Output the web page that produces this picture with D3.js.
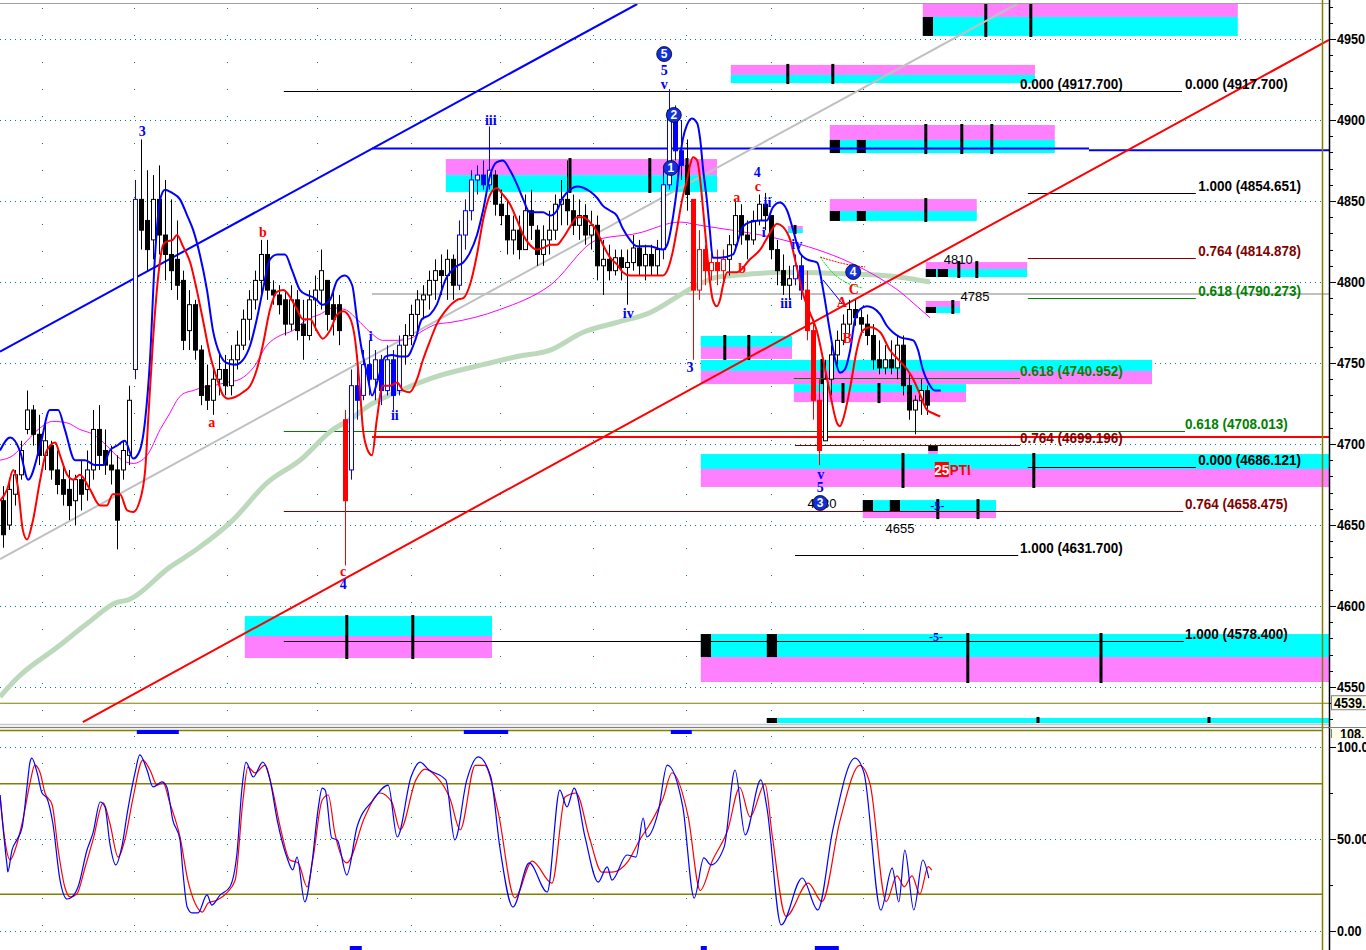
<!DOCTYPE html>
<html><head><meta charset="utf-8">
<script src="https://cdn.jsdelivr.net/npm/d3@7"></script>
<style>body{margin:0;background:#fff;overflow:hidden}svg{display:block}</style>
</head><body><svg id="c" width="1366" height="950"></svg>
<script>
// ---------------- DATA ----------------
// OHLC bars [high, low, open, close]
const ohlc = [
[4674,4636,4665,4644],[4678,4647,4650,4672],[4684,4662,4669,4681],[4702,4678,4681,4696],[4733,4706,4709,4721],
[4724,4699,4721,4706],[4718,4687,4706,4693],[4712,4684,4693,4702],[4702,4678,4699,4684],[4696,4669,4684,4675],
[4687,4662,4678,4669],[4684,4653,4672,4662],[4681,4650,4665,4678],[4690,4659,4678,4669],[4696,4665,4672,4684],
[4721,4678,4684,4709],[4724,4684,4709,4693],[4709,4681,4696,4687],[4699,4675,4687,4684],[4693,4635,4684,4653],
[4702,4678,4684,4696],[4736,4687,4693,4727],[4863,4740,4746,4851],[4888,4820,4851,4832],[4869,4807,4838,4820],
[4866,4814,4826,4851],[4872,4817,4851,4829],[4863,4801,4829,4817],[4851,4795,4817,4807],[4838,4789,4814,4798],
[4807,4758,4801,4764],[4795,4758,4770,4786],[4789,4752,4786,4758],[4761,4724,4758,4730],[4749,4721,4736,4727],
[4746,4718,4727,4740],[4755,4730,4740,4746],[4755,4730,4746,4736],[4761,4730,4736,4752],[4770,4746,4752,4761],
[4783,4758,4761,4777],[4795,4764,4777,4789],[4807,4783,4789,4801],[4826,4792,4801,4817],[4826,4789,4817,4795],
[4801,4786,4795,4792],[4798,4780,4792,4786],[4795,4767,4789,4774],[4798,4770,4774,4789],[4795,4764,4789,4770],
[4789,4752,4774,4767],[4795,4764,4767,4789],[4804,4770,4789,4795],[4820,4783,4795,4807],[4801,4770,4801,4780],
[4795,4767,4786,4777],[4792,4761,4786,4770],[4721,4625,4715,4665],[4746,4678,4684,4736],[4755,4715,4736,4727],
[4758,4727,4730,4749],[4764,4730,4749,4740],[4758,4727,4740,4752],[4755,4724,4752,4733],[4761,4730,4733,4752],
[4758,4721,4752,4730],[4767,4730,4733,4761],[4774,4749,4761,4767],[4786,4761,4767,4780],[4795,4767,4780,4789],
[4798,4777,4789,4792],[4807,4783,4792,4801],[4814,4789,4801,4807],[4817,4792,4807,4804],[4820,4789,4804,4814],
[4817,4789,4814,4798],[4838,4795,4798,4829],[4851,4820,4829,4844],[4869,4838,4844,4863],[4872,4854,4863,4866],
[4875,4857,4866,4860],[4896,4857,4860,4869],[4869,4841,4866,4848],[4857,4835,4848,4841],[4851,4817,4841,4826],
[4841,4817,4826,4832],[4841,4814,4832,4820],[4854,4820,4820,4844],[4857,4826,4844,4835],[4835,4810,4832,4817],
[4835,4810,4817,4826],[4844,4817,4826,4832],[4854,4826,4832,4848],[4863,4835,4848,4851],[4875,4835,4851,4844],
[4854,4829,4844,4835],[4851,4826,4835,4841],[4848,4823,4841,4829],[4844,4820,4829,4835],[4841,4801,4835,4810],
[4826,4792,4810,4814],[4823,4801,4814,4807],[4820,4804,4807,4815],[4820,4801,4815,4809],[4820,4786,4809,4812],
[4829,4807,4812,4821],[4826,4804,4821,4810],[4823,4801,4810,4817],[4823,4804,4817,4810],[4826,4804,4810,4820],
[4869,4814,4820,4860],[4919,4857,4860,4906],[4909,4875,4906,4881],[4900,4863,4881,4872],[4888,4844,4872,4854],
[4851,4752,4851,4795],[4832,4789,4795,4820],[4823,4798,4820,4807],[4820,4801,4807,4812],[4820,4798,4812,4807],
[4820,4801,4807,4814],[4829,4804,4814,4823],[4851,4820,4823,4841],[4848,4823,4841,4829],[4838,4814,4829,4826],
[4844,4823,4826,4838],[4854,4835,4838,4848],[4855,4832,4848,4841],[4841,4814,4841,4820],[4826,4798,4820,4807],
[4817,4792,4807,4798],[4810,4789,4798,4802],[4817,4798,4802,4810],[4817,4789,4810,4795],[4807,4764,4795,4770],
[4777,4715,4770,4727],[4740,4687,4727,4696],[4752,4702,4702,4740],[4761,4730,4740,4755],[4770,4749,4755,4764],
[4780,4761,4764,4774],[4789,4767,4774,4783],[4789,4773,4783,4778],[4783,4767,4778,4774],[4780,4761,4774,4767],
[4774,4746,4767,4752],[4764,4743,4752,4747],[4761,4743,4747,4752],[4764,4743,4752,4747],[4767,4740,4747,4761],
[4767,4730,4761,4736],[4743,4715,4736,4721],[4730,4706,4721,4727],[4740,4718,4727,4733],[4736,4718,4733,4724]
];
const upSignalBars = [[22,22],[58,66],[76,81],[110,113],[132,133]];
const downSignalBars = [[57,57],[115,120],[134,136]];

// Bands / moving averages: [time, price]
const upperBand = [[0,4696],[1.7,4704],[3.3,4696],[4.7,4678],[6.7,4699],[8.3,4721],[9.7,4721],[10.8,4709],[12.5,4690],[14.2,4690],[15.8,4687],[17.2,4687],[18.3,4696],[19.5,4699],[20.8,4702],[22.2,4691],[23.3,4696],[24.2,4715],[25,4752],[25.8,4814],[26.7,4851],[27.5,4857],[28.7,4855],[30,4851],[31.2,4841],[32.2,4832],[33.3,4817],[34.5,4795],[35.5,4770],[36.7,4755],[37.8,4750],[39.2,4749],[40.5,4752],[41.7,4761],[42.8,4777],[43.8,4795],[45,4814],[46.2,4817],[47.5,4817],[48.7,4807],[50,4795],[51.2,4792],[52.5,4790],[53.7,4786],[55,4789],[56.2,4801],[57.5,4804],[58.7,4798],[59.5,4777],[60.3,4758],[61.2,4743],[62,4730],[63,4740],[64.2,4754],[65.3,4755],[66.7,4754],[67.8,4754],[69.2,4764],[70.3,4777],[71.7,4780],[72.8,4786],[74.2,4801],[76.2,4810],[77.2,4812],[78.3,4818],[79.5,4829],[80.5,4844],[81.7,4866],[82.8,4874],[83.8,4875],[85,4869],[86.2,4860],[87.2,4851],[88.3,4843],[90.5,4843],[91.7,4841],[92.8,4844],[93.8,4852],[95,4857],[96.2,4859],[98.3,4856],[99.5,4852],[100.5,4847],[101.7,4844],[102.8,4841],[103.8,4833],[105,4826],[106.2,4822],[108.3,4822],[110.5,4820],[111.2,4823],[112.2,4841],[112.8,4857],[113.3,4875],[113.8,4888],[114.5,4897],[115.3,4901],[116.2,4898],[116.7,4888],[117.2,4869],[117.8,4851],[118.3,4832],[118.8,4815],[120,4815],[122.2,4817],[122.8,4823],[123.8,4834],[125,4837],[126.7,4838],[127.8,4838],[128.8,4846],[130,4849],[131.2,4844],[132.2,4832],[133.3,4818],[134.5,4814],[136.2,4812],[137.2,4795],[138.3,4770],[139.2,4752],[140,4744],[140.8,4746],[141.7,4758],[142.5,4777],[143.3,4783],[144.5,4785],[145.5,4784],[146.7,4780],[147.8,4773],[148.8,4769],[150,4766],[152.2,4764],[153,4758],[153.8,4746],[154.7,4738],[155.8,4733],[156.8,4733]];
const lowerBand = [[0,4665],[1.2,4672],[2.2,4684],[3,4673],[3.8,4647],[4.5,4641],[5.5,4653],[6.7,4678],[7.8,4696],[9.2,4701],[10,4693],[11.2,4681],[12.2,4678],[13.3,4681],[15,4672],[16.7,4662],[17.8,4662],[18.8,4669],[20,4669],[21.2,4659],[22.2,4658],[23.3,4665],[24.2,4684],[24.7,4715],[25.5,4764],[26.3,4801],[27.2,4823],[27.8,4825],[28.8,4826],[29.5,4829],[30.5,4822],[31.7,4812],[32.8,4795],[33.8,4777],[35,4755],[36.2,4740],[37.2,4730],[38,4728],[39.2,4729],[40.5,4732],[41.7,4736],[42.8,4746],[43.8,4761],[45,4783],[46.2,4794],[47.2,4795],[48.3,4791],[49.5,4783],[50.5,4777],[51.7,4777],[52.8,4770],[53.8,4765],[55,4770],[56.2,4780],[57.2,4782],[58.3,4778],[59.2,4764],[60,4733],[60.5,4709],[61.3,4696],[62,4693],[62.8,4715],[63.8,4736],[65,4736],[66.2,4738],[67.2,4733],[68.3,4732],[69.5,4740],[70.5,4752],[71.7,4764],[72.8,4774],[74.2,4782],[76.2,4789],[77.2,4790],[78.3,4798],[79.5,4817],[80.5,4838],[81.7,4854],[82.8,4858],[83.8,4854],[85,4848],[86.2,4838],[87.2,4829],[88.3,4823],[89.5,4820],[90.5,4821],[91.7,4823],[92.8,4823],[93.8,4827],[95,4834],[96.2,4840],[97.2,4840],[98.3,4837],[99.5,4831],[100.5,4823],[101.7,4815],[102.8,4811],[103.8,4806],[105,4804],[110.5,4804],[111.2,4807],[112.2,4820],[112.8,4832],[113.7,4851],[114.5,4863],[115,4872],[115.5,4877],[116.2,4875],[116.7,4863],[117.2,4844],[117.8,4820],[118.3,4801],[118.8,4789],[119.5,4785],[120,4789],[120.5,4798],[121.2,4806],[122.8,4806],[125,4814],[126.7,4820],[128.3,4830],[129.5,4836],[130.5,4834],[131.7,4826],[132.8,4809],[133.8,4793],[135,4781],[136.2,4769],[137.2,4752],[138.3,4732],[139.5,4713],[140,4711],[140.5,4715],[141.7,4735],[142.8,4758],[143.8,4770],[145,4772],[146.7,4769],[148.3,4758],[150,4751],[151.2,4746],[152.2,4740],[153.3,4731],[154.5,4721],[155.5,4719],[156.7,4717]];
const fastMA = [[0,4690],[2.2,4693],[4.5,4702],[6.7,4710],[8.8,4714],[11.2,4713],[13.3,4709],[15.5,4706],[17.8,4699],[20,4691],[22.2,4688],[24.5,4693],[26.7,4709],[28.3,4719],[29.5,4727],[30.5,4731],[32.2,4733],[33.8,4735],[35.5,4736],[37.8,4738],[40,4740],[42.2,4747],[44.5,4761],[46.7,4767],[48.8,4770],[51.2,4777],[53.3,4780],[55.5,4784],[57.5,4783],[59.5,4777],[61.7,4769],[63.8,4764],[66.2,4764],[68.3,4765],[70.5,4770],[72.8,4774],[75,4775],[83.3,4783],[91.7,4798],[99.5,4826],[106.2,4830],[113.3,4837],[116.7,4835],[130.5,4826],[136.2,4820],[141.7,4812],[147.2,4801],[150,4794],[152.2,4787],[155,4778]];
const slowMA = [[0,4544],[3,4556],[9.7,4575],[14.8,4590],[19.3,4602],[21.5,4604],[28.3,4624],[32.8,4635],[38.8,4653],[44.5,4676],[50,4690],[55.5,4709],[58.3,4715],[61.2,4723],[66.7,4733],[72.2,4741],[80.5,4749],[86.2,4754],[91.7,4758],[97.2,4769],[102.8,4775],[108.3,4781],[113.8,4793],[116.7,4799],[119.5,4803],[122.2,4804],[130.5,4806],[141.7,4805],[150,4803],[155,4800]];

// trend lines
const trendLines = [
  {kind:'upperChannel', pts:[[0,4757],[106.2,4971.6]]},
  {kind:'midChannel',   pts:[[0,4629],[169.5,4971.6]]},
  {kind:'lowerChannel', pts:[[13.8,4528.4],[221.5,4949.4]]},
];
const levelLines = [
  {kind:'blue', t0:62, t1:181.5, p:4882.4},
  {kind:'blue', t0:181.5, t1:221.5, p:4881.4},
  {kind:'gray', t0:62, t1:221.5, p:4792.6},
  {kind:'red',  t0:62, t1:221.5, p:4704.3},
  {kind:'olive',t0:0,  t1:221.5, p:4540}
];
const projRed   = [[136.7,4815.4],[141.7,4810.5],[144.2,4809.3]];
const projGreen = [[136.7,4815.4],[138.8,4805.6],[141.2,4799.4],[143.8,4796.3]];
const projBlue  = [[137.2,4801.2],[140.3,4787]];

// Fibonacci projection levels
const fibLines = [
 {t0:47.3,t1:197,p:4917.7,r:'0.000'},
 {t0:171.3,t1:199.3,p:4854.651,r:'1.000'},
 {t0:171.3,t1:199.3,p:4814.878,r:'0.764'},
 {t0:171.3,t1:199.3,p:4790.273,r:'0.618'},
 {t0:132.3,t1:170,p:4740.952,r:'0.618'},
 {t0:47.3,t1:197.5,p:4708.013,r:'0.618'},
 {t0:132.5,t1:170,p:4699.196,r:'0.764'},
 {t0:171.3,t1:199.3,p:4686.121,r:'0.000'},
 {t0:47.3,t1:197.2,p:4658.475,r:'0.764'},
 {t0:132.5,t1:169.7,p:4631.7,r:'1.000'},
 {t0:47.3,t1:197.3,p:4578.4,r:'1.000'}
];
const fibLabels = [
 {t:170,p:4917.7,r:'0.000'},{t:197.5,p:4917.7,r:'0.000'},
 {t:199.7,p:4854.651,r:'1.000'},{t:199.7,p:4814.878,r:'0.764'},{t:199.7,p:4790.273,r:'0.618'},
 {t:170,p:4740.952,r:'0.618'},{t:197.5,p:4708.013,r:'0.618'},{t:170,p:4699.196,r:'0.764'},
 {t:199.7,p:4686.121,r:'0.000'},{t:197.5,p:4658.475,r:'0.764'},{t:170,p:4631.7,r:'1.000'},
 {t:197.5,p:4578.4,r:'1.000'}
];

// time/price zones: hi, mid, lo prices; top = which band is upper (m magenta, c cyan, k black)
const zones = [
 {t0:153.8,t1:206.3,hi:4971.6,mid:4963.6,lo:4951.9,top:'m',blocks:[[153.8,155.5]],marks:[164.3,171.8]},
 {t0:121.8,t1:172.5,hi:4934.0,mid:4927.8,lo:4922.8,top:'m',blocks:[],marks:[131.3,138.8]},
 {t0:74.3,t1:119.5,hi:4875.9,mid:4866.0,lo:4855.6,top:'m',blocks:[],marks:[95,108.3,114.5]},
 {t0:138.3,t1:175.8,hi:4896.9,mid:4887.7,lo:4879.6,top:'m',blocks:[[138.3,140],[142.8,144.3]],marks:[154.3,160.3,165.3]},
 {t0:138.3,t1:162.8,hi:4851.2,mid:4843.8,lo:4837.7,top:'m',blocks:[[138.3,140],[142.8,144.3]],marks:[154.3]},
 {t0:131.3,t1:133.8,hi:4834.6,mid:4832.7,lo:4830.2,top:'m',blocks:[],marks:[132.5]},
 {t0:154.3,t1:171.2,hi:4812.3,mid:4808.0,lo:4803.1,top:'m',blocks:[[154.3,156],[156.3,158]],marks:[159.8,162.8]},
 {t0:154.3,t1:160,hi:4788.3,mid:4784.6,lo:4780.9,top:'m',blocks:[[154.3,156]],marks:[158.8]},
 {t0:116.8,t1:132,hi:4766.7,mid:4759.9,lo:4752.5,top:'c',blocks:[],marks:[120.8,124.8]},
 {t0:116.8,t1:192,hi:4751.9,mid:4745.1,lo:4737.0,top:'c',blocks:[],marks:[137]},
 {t0:132.3,t1:161,hi:4737.0,mid:4732.1,lo:4725.9,top:'c',blocks:[],marks:[140.5,146.5]},
 {t0:154.7,t1:156.3,hi:4698.8,mid:4695.7,lo:4692.6,top:'k',blocks:[],marks:[]},
 {t0:116.8,t1:221.5,hi:4693.8,mid:4684.6,lo:4673.5,top:'c',blocks:[],marks:[150.5,172.3]},
 {t0:143.8,t1:166,hi:4665.4,mid:4658.6,lo:4654.3,top:'c',blocks:[[143.8,145.5],[148.3,150]],marks:[156.3,163]},
 {t0:40.8,t1:82,hi:4593.8,mid:4581.5,lo:4567.9,top:'c',blocks:[],marks:[57.8,68.8]},
 {t0:116.8,t1:221.5,hi:4582.7,mid:4568.5,lo:4553.1,top:'c',blocks:[[116.8,118.5],[127.8,129.5]],marks:[161.3,183.5]},
 {t0:127.8,t1:221.5,hi:4530.9,mid:4527.8,lo:4527.8,top:'c',blocks:[[127.8,129.5]],marks:[173,201.5]}
];

// Wave labels
const waveLabels = [
 {t:23.7,p:4893.2,s:'3',k:'impulse'},{t:43.8,p:4830.9,s:'b',k:'corr'},{t:35.3,p:4713.6,s:'a',k:'corr'},
 {t:57.2,p:4621.6,s:'c',k:'corr'},{t:57.2,p:4613.6,s:'4',k:'impulse'},{t:61.8,p:4766.7,s:'i',k:'impulse'},
 {t:65.8,p:4717.9,s:'ii',k:'impulse'},{t:81.8,p:4900,s:'iii',k:'impulse'},{t:104.7,p:4780.9,s:'iv',k:'impulse'},
 {t:110.7,p:4930.9,s:'5',k:'impulse'},{t:110.7,p:4922.2,s:'v',k:'impulse'},{t:115,p:4747.5,s:'3',k:'impulse'},
 {t:122.8,p:4852.5,s:'a',k:'corr'},{t:126.2,p:4867.9,s:'4',k:'impulse'},{t:126.3,p:4859.3,s:'c',k:'corr'},
 {t:123.7,p:4808.6,s:'b',k:'corr'},{t:127.9,p:4849.4,s:'ii',k:'impulse'},{t:127.3,p:4830.9,s:'i',k:'impulse'},
 {t:131,p:4787,s:'iii',k:'impulse'},{t:132.8,p:4823.5,s:'iv',k:'impulse'},{t:142.3,p:4795.7,s:'C',k:'corr'},
 {t:140.3,p:4787.7,s:'A',k:'corr'},{t:141.2,p:4765.4,s:'B',k:'corr'},{t:136.8,p:4681.5,s:'v',k:'impulse'},
 {t:136.7,p:4673.5,s:'5',k:'impulse'},{t:156.2,p:4661.7,s:'-5-',k:'impulse'},{t:156,p:4580.9,s:'-5-',k:'impulse'}
];
const circleLabels = [
 {t:110.7,p:4940.7,s:'5'},{t:112.3,p:4903.1,s:'2'},{t:111.8,p:4870.4,s:'1'},
 {t:142.2,p:4806.2,s:'4'},{t:136.7,p:4663.6,s:'3'}
];
const priceTags = [
 {t:159.7,p:4814.2,s:'4810'},{t:162.5,p:4791.4,s:'4785'},{t:150,p:4648.1,s:'4655'},{t:137,p:4663.6,s:'4680'}
];
const ptiLabel = {t:155.8,p:4684,num:'25',txt:'PTI'};

const priceTicks = [4950,4900,4850,4800,4750,4700,4650,4600,4550];
const gridT = [7,22.3,37.8,52.8,68.5,83.3,98.8,114.3,128.5,143.8];

// Oscillator (stochastic %K and %D) [time, value]
const oscK = [[0,73.9],[0.5,56.5],[1.2,34.8],[1.3,32.1],[2,44],[2.8,49.5],[3.7,56.5],[4.5,78.3],[5,91.8],[5.3,94],[6.2,85.9],[7,75],[7.8,72.3],[8.8,58.7],[10,27.7],[11.2,17.4],[12,18.5],[13,23.9],[14.5,44],[15.5,53.3],[16.7,70.1],[17.5,67.4],[18.3,47.8],[19.3,35.9],[20.3,45.7],[21.3,65.8],[22.5,85.9],[23.3,95.7],[24.5,87.5],[25.5,78.3],[27,81],[27.8,78.3],[28.8,60.3],[30,49.5],[30.5,31.5],[31.2,13],[32,9.8],[33,9.8],[34.5,19.6],[35.3,14.1],[36.7,19.6],[38.3,23.9],[39.5,42.4],[40.3,76.6],[41,91.8],[42.2,83.7],[43.8,91.8],[45,82.1],[46.2,60.3],[47.8,40.2],[48.8,33.2],[49.5,40.2],[50.8,15.8],[52,37],[53,65.8],[53.7,77.7],[54.2,76.6],[55.3,50.5],[56.2,49.5],[57.8,30.4],[59.5,56.5],[62.2,71.2],[64.7,79.3],[66.2,51.1],[68.5,83.7],[70,91.8],[71.5,87.5],[74.3,82.1],[75.8,49.5],[77.8,82.1],[79.7,94.6],[81.8,83.7],[83.3,45.7],[85.5,13],[88.2,37],[91.2,21.2],[93.3,76.6],[94.5,67.4],[95.7,77.7],[97.5,51.1],[99.7,26.6],[101.2,34.8],[102,27.7],[104.5,41.3],[106,40.2],[107.2,61.4],[107.8,51.1],[109.7,64.7],[111.2,90.2],[113.8,67.4],[115.7,17.9],[117.3,39.7],[118.5,35.9],[120.7,45.7],[122.5,87.5],[124.2,52.2],[126.8,82.1],[127.8,67.4],[130.2,3.3],[133.7,28.8],[136.3,11.4],[138.8,54.9],[142.5,94],[144,85.9],[146.8,11.4],[148.7,34.2],[149.8,15.8],[150.8,44],[152.3,11.4],[153.8,38.6],[154.8,28.8]];
const oscD = [[0,73.9],[0.8,49.5],[1.7,38.6],[2.5,44],[3.8,60.3],[5,80.4],[5.8,90.2],[6.7,85.9],[7.5,75],[8.7,68.5],[9.7,44],[10.8,23.9],[11.7,18.5],[12.8,20.1],[14.2,34.8],[15.5,49.5],[17.2,69.6],[18.3,58.7],[19.7,40.2],[20.8,49.5],[22.2,72.8],[23.8,92.9],[25,87.5],[26.2,79.3],[27.2,80.4],[28.3,69.6],[30,51.1],[31.3,27.7],[32.5,15.2],[33.7,10.3],[34.7,15.2],[36.2,16.8],[37.8,20.7],[39.2,27.7],[40.5,71.2],[41.3,89.1],[42.5,85.9],[44.2,90.2],[45.3,78.3],[46.7,56.5],[48.3,38.6],[49.7,37],[51.2,23.9],[52.2,40.2],[53.7,71.2],[54.7,73.9],[55.8,53.3],[57.8,37],[60.8,62],[63.3,75],[65.3,70],[66.7,55],[69.3,82],[70.8,88],[72.7,84],[75,72],[76.7,55],[79.2,90],[80.8,90],[83,65],[85.8,18],[88.7,38],[92,26],[94.2,73],[96,75],[98.3,50],[100.3,32],[102,32],[104.7,38],[106.7,50],[108.3,58],[110.5,72],[112,86],[114.7,62],[116.7,22],[118.7,38],[121.3,55],[123.3,78],[125,62],[127.5,80],[128.7,52],[131,8],[134.7,26],[137,16],[140,60],[143.3,90],[145,80],[147.7,16],[149.5,30],[150.7,24],[152,30],[153.3,20],[154.7,35],[155.3,33]];
const oscLevels = [80,20];
const oscTicks = [100,50,0];
const oscFlagsTop = [[22.8,29.8],[77.3,84.7],[111.8,115.3]];
const oscFlagsBottom = [[58.3,60.3],[116.8,117.8],[135.8,139.8]];

// ---------------- DRAW ----------------
const svg = d3.select('#c');
const x = d3.scaleLinear().domain([0,221.5]).range([0,1329]);
const y = d3.scaleLinear().domain([4527.8,4971.6]).range([723,4]);
const yo = d3.scaleLinear().domain([0,100]).range([931,747]);
const MAG='#ff80ff', CYA='#00ffff';
const SANS='"Liberation Sans",Arial,sans-serif';

const defs = svg.append('defs');
defs.append('clipPath').attr('id','mainClip').append('rect').attr('x',0).attr('y',4).attr('width',1329).attr('height',719);
defs.append('clipPath').attr('id','oscClip').append('rect').attr('x',0).attr('y',729).attr('width',1329).attr('height',221);
defs.append('clipPath').attr('id','tagClip').append('rect').attr('x',1330).attr('y',729).attr('width',40).attr('height',9);

svg.append('rect').attr('width',1366).attr('height',950).attr('fill','#fff');

const g = svg.append('g').attr('clip-path','url(#mainClip)');

// grid
g.selectAll('line.hg').data(priceTicks).join('line')
 .attr('x1',0).attr('x2',1322).attr('y1',d=>Math.round(y(d))+0.5).attr('y2',d=>Math.round(y(d))+0.5)
 .attr('stroke','#008080').attr('stroke-dasharray','1,4');
g.selectAll('line.vg').data(gridT).join('line')
 .attr('x1',d=>Math.round(x(d))+0.5).attr('x2',d=>Math.round(x(d))+0.5).attr('y1',8).attr('y2',723)
 .attr('stroke','#008080').attr('stroke-dasharray','1,26');

// zones
zones.forEach(z=>{
  const upFill = z.top==='m'?MAG:(z.top==='c'?CYA:'#000');
  const loFill = z.top==='m'?CYA:MAG;
  const x0=x(z.t0), x1=x(z.t1);
  g.append('rect').attr('x',x0).attr('width',x1-x0).attr('y',y(z.hi)).attr('height',y(z.mid)-y(z.hi)).attr('fill',upFill);
  if (z.lo<z.mid) g.append('rect').attr('x',x0).attr('width',x1-x0).attr('y',y(z.mid)).attr('height',y(z.lo)-y(z.mid)).attr('fill',loFill);
  const cy0 = z.top==='m'? y(z.mid): y(z.hi);
  const cy1 = z.top==='m'? y(z.lo): y(z.mid);
  z.blocks.forEach(b=>{
    g.append('rect').attr('x',x(b[0])).attr('width',x(b[1])-x(b[0])).attr('y',cy0).attr('height',Math.max(2,cy1-cy0)).attr('fill','#000');
  });
  z.marks.forEach(m=>{
    g.append('rect').attr('x',x(m)-1.5).attr('width',3).attr('y',y(z.hi)-1).attr('height',y(z.lo)-y(z.hi)+2).attr('fill','#000');
  });
});

// fib lines
const fibColor = r => r==='0.618'?'#008000':(r==='0.764'?'#800000':'#000');
g.selectAll('line.fib').data(fibLines).join('line')
 .attr('x1',d=>x(d.t0)).attr('x2',d=>x(d.t1)).attr('y1',d=>Math.round(y(d.p))+0.5).attr('y2',d=>Math.round(y(d.p))+0.5)
 .attr('stroke',d=>fibColor(d.r)).attr('stroke-width',1);

// level lines
const lvlColor = {blue:'#0000ff',gray:'#c0c0c0',red:'#ff0000',olive:'#808000'};
g.selectAll('line.lvl').data(levelLines).join('line')
 .attr('x1',d=>x(d.t0)).attr('x2',d=>x(d.t1)).attr('y1',d=>y(d.p)).attr('y2',d=>y(d.p))
 .attr('stroke',d=>lvlColor[d.kind]).attr('stroke-width',d=>d.kind==='olive'?1.2:2);

const line = d3.line().x(d=>x(d[0])).y(d=>y(d[1]));
const curve = d3.line().x(d=>x(d[0])).y(d=>y(d[1])).curve(d3.curveMonotoneX);

g.append('path').attr('d',curve(slowMA)).attr('fill','none').attr('stroke','#bcd9bc').attr('stroke-width',5);
const tlColor = {upperChannel:'#0000ff', midChannel:'#c0c0c0', lowerChannel:'#ff0000'};
trendLines.forEach(tl=>{
  g.append('path').attr('d',line(tl.pts)).attr('fill','none').attr('stroke',tlColor[tl.kind]).attr('stroke-width',2);
});
g.append('path').attr('d',curve(fastMA)).attr('fill','none').attr('stroke','#ff00ff').attr('stroke-width',1);

// candles
const inRanges=(i,rs)=>rs.some(r=>i>=r[0]&&i<=r[1]);
const candles = g.append('g');
ohlc.forEach((b,i)=>{
  const [h,l,o,c]=b;
  const col = inRanges(i,downSignalBars)?'#ff0000':(inRanges(i,upSignalBars)?'#0000ff':'#000');
  const cx = Math.round(x(i+0.5))+0.5;
  candles.append('line').attr('x1',cx).attr('x2',cx).attr('y1',y(h)).attr('y2',y(l)).attr('stroke',col).attr('stroke-width',1);
  const top=y(Math.max(o,c)), bot=y(Math.min(o,c));
  candles.append('rect').attr('x',cx-2).attr('width',4).attr('y',top).attr('height',Math.max(1,bot-top))
    .attr('fill',c>=o?'#fff':col).attr('stroke',col).attr('stroke-width',1);
});

g.append('path').attr('d',curve(upperBand)).attr('fill','none').attr('stroke','#0000ff').attr('stroke-width',2);
g.append('path').attr('d',curve(lowerBand)).attr('fill','none').attr('stroke','#ff0000').attr('stroke-width',2);
g.append('path').attr('d',curve(projRed)).attr('fill','none').attr('stroke','#ff0000').attr('stroke-width',1).attr('stroke-dasharray','2,1');
g.append('path').attr('d',curve(projGreen)).attr('fill','none').attr('stroke','#00e000').attr('stroke-width',1).attr('stroke-dasharray','2,1');
g.append('path').attr('d',line(projBlue)).attr('fill','none').attr('stroke','#0000ff').attr('stroke-width',1);

// fib labels (narrow bold)
g.selectAll('text.fib').data(fibLabels).join('text')
 .attr('transform',d=>`translate(${x(d.t)},${Math.round(y(d.p))-2}) scale(0.9,1)`)
 .attr('fill',d=>fibColor(d.r)).attr('font-family',SANS).attr('font-weight','bold').attr('font-size',15)
 .text(d=>`${d.r} (${d.p.toFixed(3)})`);

// price tags
g.selectAll('text.tag').data(priceTags).join('text')
 .attr('x',d=>x(d.t)).attr('y',d=>y(d.p)).attr('dy','0.36em').attr('text-anchor','middle')
 .attr('font-family',SANS).attr('font-size',13).attr('fill','#000').text(d=>d.s);

// wave labels
g.selectAll('text.wave').data(waveLabels).join('text')
 .attr('x',d=>x(d.t)).attr('y',d=>y(d.p)).attr('dy','0.35em').attr('text-anchor','middle')
 .attr('font-family','"Liberation Serif","Times New Roman",serif').attr('font-weight','bold')
 .attr('font-size',d=>d.s==='-5-'?12:14)
 .attr('fill',d=>d.k==='corr'?'#ff0000':'#0000ff').text(d=>d.s);

// circled labels
const cg = g.selectAll('g.circ').data(circleLabels).join('g').attr('transform',d=>`translate(${x(d.t)},${y(d.p)})`);
cg.append('circle').attr('r',7.5).attr('fill','#1030e0').attr('stroke','#000').attr('stroke-width',0.8);
cg.append('text').attr('text-anchor','middle').attr('dy','0.36em').attr('fill','#fff')
  .attr('font-family',SANS).attr('font-weight','bold').attr('font-size',12).text(d=>d.s);

// PTI label
{
  const px=x(ptiLabel.t), py=y(ptiLabel.p);
  g.append('rect').attr('x',px).attr('y',py-8).attr('width',14).attr('height',15).attr('fill','#ff0000');
  g.append('text').attr('transform',`translate(${px+7},${py}) scale(0.9,1)`).attr('dy','0.36em').attr('text-anchor','middle').attr('fill','#fff')
   .attr('font-family',SANS).attr('font-weight','bold').attr('font-size',15).text(ptiLabel.num);
  g.append('text').attr('transform',`translate(${px+15},${py}) scale(0.9,1)`).attr('dy','0.36em').attr('fill','#ff0000')
   .attr('font-family',SANS).attr('font-weight','bold').attr('font-size',15).text(ptiLabel.txt);
}

svg.append('line').attr('x1',0).attr('x2',1329).attr('y1',3.5).attr('y2',3.5).attr('stroke','#a0a0a0');

// panel separator
svg.append('rect').attr('x',0).attr('y',723).attr('width',1329).attr('height',6).attr('fill','#f0f0f0');
svg.append('line').attr('x1',0).attr('x2',1329).attr('y1',724.5).attr('y2',724.5).attr('stroke','#c8c8c8');
svg.append('line').attr('x1',0).attr('x2',1329).attr('y1',727.5).attr('y2',727.5).attr('stroke','#808080');

// oscillator
const og = svg.append('g').attr('clip-path','url(#oscClip)');
og.append('line').attr('x1',0).attr('x2',1322).attr('y1',730.5).attr('y2',730.5).attr('stroke','#808000').attr('stroke-width',1.5);
og.selectAll('line.od').data(oscTicks).join('line').attr('x1',0).attr('x2',1322)
  .attr('y1',d=>Math.round(yo(d))+0.5).attr('y2',d=>Math.round(yo(d))+0.5).attr('stroke','#008080').attr('stroke-dasharray','1,4');
og.selectAll('line.ol').data(oscLevels).join('line').attr('x1',0).attr('x2',1322)
  .attr('y1',d=>yo(d)).attr('y2',d=>yo(d)).attr('stroke','#808000').attr('stroke-width',1.5);
og.selectAll('line.ov').data(gridT).join('line')
 .attr('x1',d=>Math.round(x(d))+0.5).attr('x2',d=>Math.round(x(d))+0.5).attr('y1',736).attr('y2',950)
 .attr('stroke','#008080').attr('stroke-dasharray','1,26');
const oline = d3.line().x(d=>x(d[0])).y(d=>yo(d[1])).curve(d3.curveMonotoneX);
og.append('path').attr('d',oline(oscD)).attr('fill','none').attr('stroke','#ff0000').attr('stroke-width',1.2);
og.append('path').attr('d',oline(oscK)).attr('fill','none').attr('stroke','#0000ff').attr('stroke-width',1.2);
og.selectAll('rect.ft').data(oscFlagsTop).join('rect').attr('x',d=>x(d[0])).attr('width',d=>x(d[1])-x(d[0])).attr('y',730).attr('height',4).attr('fill','#0000ff');
og.selectAll('rect.fb').data(oscFlagsBottom).join('rect').attr('x',d=>x(d[0])).attr('width',d=>x(d[1])-x(d[0])).attr('y',946).attr('height',4).attr('fill','#0000ff');

// right axis
svg.append('rect').attr('x',1329).attr('y',0).attr('width',37).attr('height',950).attr('fill','#fff');
svg.append('line').attr('x1',1322.5).attr('x2',1322.5).attr('y1',0).attr('y2',950).attr('stroke','#808000').attr('stroke-width',1.5);
svg.append('line').attr('x1',1329.5).attr('x2',1329.5).attr('y1',0).attr('y2',950).attr('stroke','#000').attr('stroke-width',1.5);
const minorP = d3.range(4530,4971,10).filter(v=>v%50!==0);
svg.selectAll('line.mt').data(minorP).join('line').attr('x1',1330).attr('x2',1333).attr('y1',d=>Math.round(y(d))+0.5).attr('y2',d=>Math.round(y(d))+0.5).attr('stroke','#000');
svg.selectAll('line.Mt').data(priceTicks).join('line').attr('x1',1330).attr('x2',1336).attr('y1',d=>Math.round(y(d))+0.5).attr('y2',d=>Math.round(y(d))+0.5).attr('stroke','#000');
svg.selectAll('text.pt').data(priceTicks).join('text')
 .attr('transform',d=>`translate(1337,${y(d)}) scale(0.9,1)`).attr('dy','0.36em')
 .attr('font-family',SANS).attr('font-weight','bold').attr('font-size',14).attr('fill','#000').text(d=>d);
svg.append('rect').attr('x',1331.5).attr('y',y(4540)-7.5).attr('width',36).attr('height',14).attr('fill','#ffffe8').attr('stroke','#808080');
svg.append('text').attr('transform',`translate(1334,${y(4540)}) scale(0.9,1)`).attr('dy','0.36em').attr('font-family',SANS).attr('font-weight','bold').attr('font-size',14).text('4539.');
svg.selectAll('line.omt').data([75,25]).join('line').attr('x1',1330).attr('x2',1333).attr('y1',d=>Math.round(yo(d))+0.5).attr('y2',d=>Math.round(yo(d))+0.5).attr('stroke','#000');
svg.selectAll('line.oMt').data(oscTicks).join('line').attr('x1',1330).attr('x2',1336).attr('y1',d=>Math.round(yo(d))+0.5).attr('y2',d=>Math.round(yo(d))+0.5).attr('stroke','#000');
svg.selectAll('text.ot').data(oscTicks).join('text')
 .attr('transform',d=>`translate(1337,${yo(d)}) scale(0.9,1)`).attr('dy','0.36em')
 .attr('font-family',SANS).attr('font-weight','bold').attr('font-size',14).attr('fill','#000')
 .text(d=>d===100?'100.0':(d===50?'50.00':'0.00'));
const tagG = svg.append('g').attr('clip-path','url(#tagClip)');
tagG.append('rect').attr('x',1331.5).attr('y',727).attr('width',36).attr('height',12).attr('fill','#ffffe8').attr('stroke','#808080');
tagG.append('text').attr('transform','translate(1340,739) scale(0.9,1)').attr('font-family',SANS).attr('font-weight','bold').attr('font-size',14).text('108.');
svg.append('line').attr('x1',1329).attr('x2',1366).attr('y1',727.5).attr('y2',727.5).attr('stroke','#808080');
</script></body></html>
